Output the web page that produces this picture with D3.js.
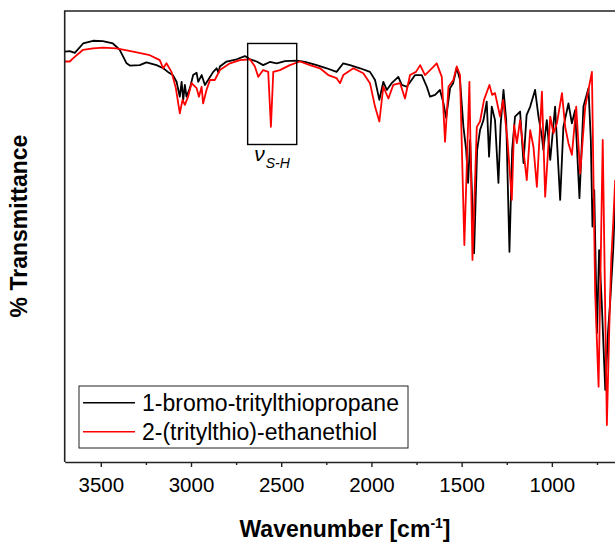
<!DOCTYPE html>
<html>
<head>
<meta charset="utf-8">
<script src="https://cdn.jsdelivr.net/npm/d3@7"></script>
<style>
  body { margin: 0; background: #fff; }
  text { font-family: "Liberation Sans", Arial, sans-serif; fill: #000; }
</style>
</head>
<body>
<div id="chart"></div>
<script>
// series names and colours (legend order)
var seriesNames = ["1-bromo-tritylthiopropane", "2-(tritylthio)-ethanethiol"];
var seriesColors = ["#000000", "#ff0000"];

// 1-bromo-tritylthiopropane
var bromoWavenumber = [
  3700, 3672, 3644, 3598, 3543, 3489, 3433, 3395, 3357, 3339,
  3284, 3247, 3191, 3154, 3128, 3101, 3080, 3062, 3052, 3043,
  3034, 3025, 3006, 2988, 2969, 2960, 2941, 2923, 2905, 2877,
  2858, 2848, 2840, 2803, 2747, 2701, 2673, 2636, 2600, 2563,
  2525, 2479, 2414, 2368, 2303, 2248, 2193, 2156, 2119, 2063,
  2008, 1980, 1956, 1934, 1915, 1888, 1851, 1832, 1804, 1758,
  1721, 1693, 1675, 1647, 1620, 1601, 1586, 1564, 1547, 1527,
  1509, 1490, 1475, 1464, 1453, 1431, 1414, 1398, 1379, 1361,
  1348, 1333, 1315, 1296, 1284, 1268, 1253, 1235, 1220, 1204,
  1176, 1157, 1140, 1120, 1093, 1074, 1055, 1047, 1028, 1009,
  982, 954, 936, 908, 889, 871, 847, 825, 797, 784,
  775, 765, 750, 738, 724, 704, 688, 677, 660, 649
];
var bromoT = [
  91.0, 91.1, 90.7, 92.8, 93.4, 93.3, 92.8, 91.4, 88.4, 87.9,
  88.0, 88.6, 88.0, 87.3, 86.5, 85.8, 84.3, 81.0, 84.3, 80.3,
  83.6, 81.0, 82.9, 85.8, 86.3, 84.3, 85.8, 83.6, 84.7, 86.5,
  87.3, 86.3, 87.7, 88.8, 89.3, 90.0, 89.3, 88.8, 88.0, 88.7,
  88.4, 88.9, 89.0, 88.7, 88.0, 87.3, 86.5, 88.4, 88.0, 87.3,
  86.5, 84.7, 80.3, 84.3, 82.5, 84.0, 85.4, 83.6, 83.2, 85.8,
  85.8, 83.2, 81.0, 81.4, 82.5, 79.6, 76.3, 82.9, 84.0, 87.4,
  84.7, 74.3, 69.2, 61.9, 71.4, 46.3, 69.2, 73.6, 75.8, 79.9,
  67.7, 78.8, 75.8, 61.9, 74.7, 82.5, 75.8, 46.6, 69.2, 76.6,
  77.7, 66.3, 76.9, 78.8, 82.5, 76.6, 72.1, 69.2, 75.8, 67.0,
  78.8, 58.1, 74.3, 79.5, 75.1, 78.0, 58.5, 78.8, 82.9, 71.4,
  52.2, 60.3, 28.6, 47.0, 35.9, 16.0, 29.3, 35.3, 47.0, 58.1
];

// 2-(tritylthio)-ethanethiol
var thiolWavenumber = [
  3700, 3672, 3654, 3598, 3543, 3487, 3413, 3321, 3228, 3173,
  3154, 3136, 3108, 3084, 3062, 3047, 3034, 3016, 2997, 2969,
  2956, 2941, 2933, 2914, 2895, 2868, 2840, 2784, 2729, 2673,
  2646, 2627, 2600, 2572, 2557, 2544, 2507, 2452, 2396, 2341,
  2285, 2239, 2193, 2174, 2156, 2100, 2045, 2008, 1980, 1956,
  1934, 1906, 1879, 1841, 1814, 1786, 1753, 1730, 1703, 1675,
  1638, 1610, 1592, 1573, 1546, 1527, 1509, 1485, 1457, 1440,
  1416, 1398, 1376, 1346, 1331, 1315, 1287, 1270, 1246, 1222,
  1209, 1194, 1176, 1139, 1120, 1102, 1083, 1055, 1037, 1009,
  991, 972, 944, 926, 908, 889, 865, 843, 815, 778,
  760, 741, 718, 695, 682, 671, 660, 649
];
var thiolT = [
  88.8, 88.8, 89.5, 91.4, 91.7, 91.9, 91.7, 91.0, 90.2, 89.1,
  87.3, 88.4, 86.5, 82.9, 77.3, 80.3, 79.2, 81.0, 84.0, 82.9,
  81.0, 83.2, 79.5, 82.5, 84.7, 84.7, 86.9, 88.4, 89.1, 89.3,
  87.7, 85.4, 86.9, 86.5, 74.3, 86.5, 86.9, 88.0, 88.8, 88.0,
  87.3, 85.8, 85.1, 84.0, 85.8, 87.3, 86.2, 84.0, 78.8, 75.5,
  83.2, 80.6, 83.6, 84.0, 80.6, 85.8, 86.5, 88.0, 85.8, 86.9,
  88.4, 85.4, 71.0, 83.2, 84.7, 87.7, 85.8, 48.1, 84.3, 44.8,
  74.3, 75.5, 80.3, 83.6, 81.4, 81.8, 76.6, 80.3, 71.4, 58.1,
  74.7, 70.7, 75.8, 62.5, 73.6, 69.9, 61.0, 82.1, 58.8, 76.6,
  72.9, 75.1, 81.8, 74.3, 70.7, 68.1, 78.8, 64.0, 78.8, 86.5,
  37.5, 16.7, 71.4, 8.2, 29.3, 44.8, 53.0, 62.5
];

// axis ticks
var majorTicks = [3500, 3000, 2500, 2000, 1500, 1000];
var minorTicks = [3250, 2750, 2250, 1750, 1250, 750];

// S-H stretch marker box (wavenumber range, %T range)
var shBoxWavenumber = [2686, 2414];
var shBoxT = [70.4, 92.8];

var svgWidth = 615;
var svgHeight = 543;
var plot = { left: 64.7, right: 615, top: 11, bottom: 462 };

var svg = d3.select("#chart")
  .append("svg")
  .attr("width", svgWidth)
  .attr("height", svgHeight);

var x = d3.scaleLinear().domain([3700, 650]).range([plot.left, plot.right]);
var y = d3.scaleLinear().domain([0, 100]).range([plot.bottom, plot.top]);

svg.append("clipPath").attr("id", "clip")
  .append("rect")
  .attr("x", plot.left).attr("y", plot.top)
  .attr("width", plot.right - plot.left).attr("height", plot.bottom - plot.top);

var series = [
  d3.zip(bromoWavenumber, bromoT),
  d3.zip(thiolWavenumber, thiolT)
];

var line = d3.line()
  .x(d => x(d[0]))
  .y(d => y(d[1]));

svg.append("g")
  .attr("clip-path", "url(#clip)")
  .selectAll("path")
  .data(series)
  .enter()
  .append("path")
  .attr("d", line)
  .attr("fill", "none")
  .attr("stroke", (d, i) => seriesColors[i])
  .attr("stroke-width", 1.8)
  .attr("stroke-linejoin", "round");

// frame: left + top (right side is cut off in the picture)
svg.append("path")
  .attr("d", `M${plot.right + 2},${plot.top}H${plot.left}V${plot.bottom}`)
  .attr("fill", "none")
  .attr("stroke", "#222")
  .attr("stroke-width", 1.6);

// x axis
var xAxis = svg.append("g")
  .attr("transform", `translate(0, ${plot.bottom})`)
  .call(d3.axisBottom(x).tickValues(majorTicks).tickSize(5).tickSizeOuter(0).tickFormat(d3.format("d")));
xAxis.select(".domain").attr("stroke", "#222").attr("stroke-width", 1.6);
xAxis.selectAll(".tick line").attr("stroke", "#222").attr("stroke-width", 1.4);
xAxis.selectAll(".tick text")
  .attr("y", 30)
  .attr("dy", null)
  .attr("font-size", "20.5px")
  .attr("font-family", "Liberation Sans, Arial, sans-serif")
  .attr("fill", "#000");

var xMinor = svg.append("g")
  .attr("transform", `translate(0, ${plot.bottom})`)
  .call(d3.axisBottom(x).tickValues(minorTicks).tickSize(3).tickSizeOuter(0).tickFormat(""));
xMinor.select(".domain").remove();
xMinor.selectAll(".tick line").attr("stroke", "#222").attr("stroke-width", 1.4);

// axis titles
var xTitle = svg.append("text")
  .attr("x", 345)
  .attr("y", 537)
  .attr("text-anchor", "middle")
  .attr("font-size", "23px")
  .attr("font-weight", "bold");
xTitle.append("tspan").text("Wavenumber [cm");
xTitle.append("tspan").attr("font-size", "14px").attr("dy", -9).text("-1");
xTitle.append("tspan").attr("dy", 9).text("]");

svg.append("text")
  .attr("transform", "translate(27, 226) rotate(-90)")
  .attr("text-anchor", "middle")
  .attr("font-size", "23px")
  .attr("font-weight", "bold")
  .text("% Transmittance");

// S-H marker
svg.append("rect")
  .attr("x", x(shBoxWavenumber[0]))
  .attr("y", y(shBoxT[1]))
  .attr("width", x(shBoxWavenumber[1]) - x(shBoxWavenumber[0]))
  .attr("height", y(shBoxT[0]) - y(shBoxT[1]))
  .attr("fill", "none")
  .attr("stroke", "#000")
  .attr("stroke-width", 1.4);

var nu = svg.append("text")
  .attr("x", x(2650))
  .attr("y", 161)
  .attr("font-style", "italic")
  .attr("font-size", "21px");
nu.append("tspan").text("\u03BD");
nu.append("tspan").attr("font-size", "14px").attr("dy", 7).attr("dx", 1).text("S-H");

// legend
var legend = svg.append("g");
legend.append("rect")
  .attr("x", 79).attr("y", 386)
  .attr("width", 329).attr("height", 62)
  .attr("fill", "#fff")
  .attr("stroke", "#222")
  .attr("stroke-width", 1);

var items = legend.selectAll(".item")
  .data(seriesNames)
  .enter()
  .append("g")
  .attr("transform", (d, i) => `translate(0, ${402.7 + i * 29})`);

items.append("line")
  .attr("x1", 83).attr("x2", 135)
  .attr("stroke", (d, i) => seriesColors[i])
  .attr("stroke-width", 1.6);

items.append("text")
  .attr("x", 142)
  .attr("y", 8)
  .attr("font-size", "23px")
  .text(d => d);
</script>
</body>
</html>
